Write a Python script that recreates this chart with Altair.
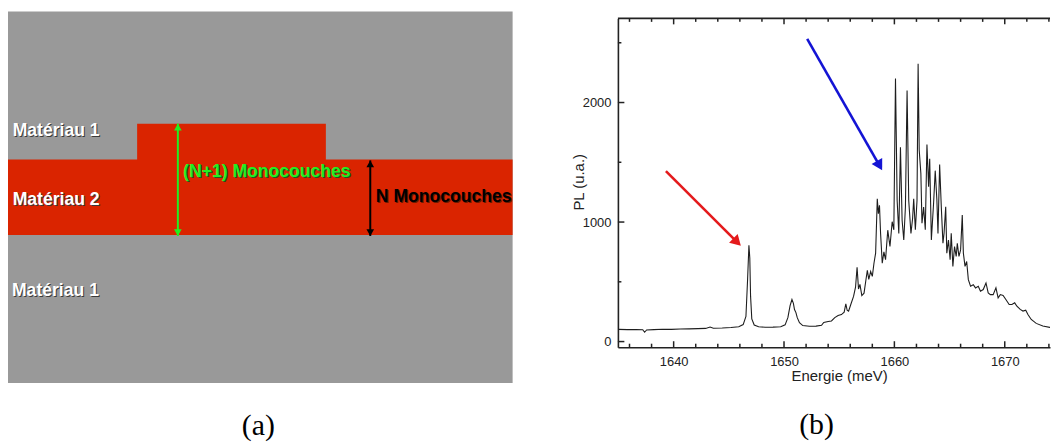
import math
import altair as alt
import pandas as pd

# ---------------- (b) PL spectrum ----------------
energy = [1635.0, 1635.8, 1636.6, 1637.2, 1637.37, 1637.55, 1638.2, 1639.0, 1639.8, 1640.6,
          1641.4, 1642.2, 1642.9, 1643.3, 1643.6, 1644.4, 1645.2, 1645.9, 1646.3, 1646.55,
          1646.7, 1646.82, 1646.9, 1646.97, 1647.08, 1647.3, 1647.7, 1648.3, 1649.0, 1649.7,
          1650.1, 1650.35, 1650.55, 1650.72, 1650.85, 1650.95, 1651.08, 1651.2, 1651.4, 1651.7,
          1652.3, 1652.9, 1653.4, 1653.6, 1654.0, 1654.3, 1654.6, 1654.9, 1655.2, 1655.45,
          1655.6, 1655.72, 1655.85, 1656.05, 1656.3, 1656.48, 1656.62, 1656.75, 1656.88, 1657.05,
          1657.25, 1657.42, 1657.55, 1657.68, 1657.85, 1658.0, 1658.15, 1658.3, 1658.45, 1658.55,
          1658.65, 1658.75, 1658.9, 1659.05, 1659.2, 1659.4, 1659.6, 1659.8, 1659.95, 1660.1,
          1660.25, 1660.4, 1660.55, 1660.7, 1660.85, 1661.0, 1661.15, 1661.3, 1661.5, 1661.65,
          1661.75, 1661.9, 1662.05, 1662.15, 1662.25, 1662.4, 1662.5, 1662.65, 1662.8, 1662.95,
          1663.1, 1663.2, 1663.35, 1663.55, 1663.7, 1663.85, 1663.95, 1664.1, 1664.25, 1664.4,
          1664.5, 1664.65, 1664.75, 1664.9, 1665.05, 1665.15, 1665.3, 1665.45, 1665.6, 1665.7,
          1665.85, 1666.0, 1666.15, 1666.25, 1666.4, 1666.55, 1666.7, 1666.9, 1667.15, 1667.35,
          1667.6, 1667.8, 1668.05, 1668.3, 1668.5, 1668.7, 1668.95, 1669.2, 1669.4, 1669.6,
          1669.85, 1670.1, 1670.4, 1670.65, 1670.9, 1671.1, 1671.4, 1671.65, 1671.9, 1672.1,
          1672.4, 1672.85, 1673.45, 1674.25]
pl = [102, 100, 101, 99, 78, 97, 100, 103, 102, 105,
      106, 108, 110, 121, 112, 114, 118, 124, 142, 210,
      520, 805, 700, 380, 190, 138, 124, 120, 121, 124,
      140, 200, 300, 352, 320, 268, 242, 200, 158, 134,
      128, 129, 136, 160, 168, 172, 200, 218, 226, 246,
      315, 262, 255, 310, 378, 455, 622, 440, 478, 385,
      405, 515, 595, 520, 586, 545, 655, 740, 1195, 1070,
      1140, 905, 655, 750, 685, 932, 795, 1003, 935, 2200,
      1180, 905, 1625, 1015, 850, 1125, 2100, 1180, 905, 1030,
      1195, 935, 1180, 2325, 1600, 1405, 990, 1125, 935, 1648,
      1295, 1530, 850, 1155, 1430, 1185, 905, 1482, 1127, 823,
      906, 1127, 740, 850, 684, 906, 629, 795, 712, 823,
      712, 767, 1058, 740, 629, 670, 518, 463, 476, 449,
      463, 421, 435, 490, 407, 393, 393, 449, 366, 393,
      385, 352, 310, 310, 324, 296, 269, 255, 263, 227,
      185, 152, 130, 116]

x_major = [1640, 1650, 1660, 1670]
x_minor = [1636, 1638, 1642, 1644, 1646, 1648, 1652, 1654, 1656, 1658,
           1662, 1664, 1666, 1668, 1672, 1674]
y_major = [0, 1000, 2000]
y_minor = [500, 1500, 2500]

# annotation arrows on the spectrum (start -> tip), data units
arrow_x0 = [1639.3, 1652.1]
arrow_y0 = [1426, 2532]
arrow_x1 = [1646.1, 1658.9]
arrow_y1 = [800, 1432]
arrow_colors = ["#e41a1c", "#1414d4"]

# ---------------- (a) schematic, units ----------------
layer_names = ["Matériau 1", "Matériau 2", "Matériau 2 (marche)"]
layer_x0 = [0, 0, 130]
layer_x1 = [508, 508, 320]
layer_y0 = [0, 149, 224]
layer_y1 = [374, 225, 261]
layer_colors = ["#999999", "#da2400", "#da2400"]

label_text = ["Matériau 1", "Matériau 2", "Matériau 1", "(N+1) Monocouches", "N Monocouches"]
label_x = [4.7, 4.7, 4.0, 176.3, 370.3]
label_y = [254, 184, 93, 212, 186.7]
label_color = ["#ffffff", "#ffffff", "#ffffff", "#22ee22", "#000000"]
label_shadow = ["#3a3a3a", "#3a3a3a", "#3a3a3a", "#1d5a1d", "#6a1a00"]

dim_x = [171, 364.7]
dim_y0 = [148, 148]
dim_y1 = [261, 224]
dim_color = ["#22ee22", "#000000"]

# ---------------- sizes ----------------
W_L, H_L = 508, 367
W_R, H_R = 435, 331
X_DOM = [1634.95, 1674.1]
Y_DOM = [-47, 2704]
AX = "#222222"
SANS = "Liberation Sans"
SERIF = "Liberation Serif"

# ======================= left panel =======================
lx = alt.Scale(domain=[0, W_L], nice=False, zero=False)
ly = alt.Scale(domain=[0, H_L], nice=False, zero=False)

rect_df = pd.DataFrame({"nom": layer_names, "x0": layer_x0, "x1": layer_x1,
                        "y0": layer_y0, "y1": layer_y1, "c": layer_colors})
rects = alt.Chart(rect_df).mark_rect().encode(
    x=alt.X("x0:Q", scale=lx, axis=None), x2="x1:Q",
    y=alt.Y("y0:Q", scale=ly, axis=None), y2="y1:Q",
    color=alt.Color("c:N", scale=None),
)

dim_df = pd.DataFrame({"x": dim_x, "y0": dim_y0, "y1": dim_y1, "c": dim_color})
dim_shaft = alt.Chart(dim_df).mark_rule(strokeWidth=2).encode(
    x=alt.X("x:Q", scale=lx, axis=None),
    y=alt.Y("y0:Q", scale=ly, axis=None), y2="y1:Q",
    color=alt.Color("c:N", scale=None),
)
dim_top = alt.Chart(dim_df).mark_point(shape="triangle-up", filled=True, size=60,
                                       opacity=1, yOffset=3.4).encode(
    x=alt.X("x:Q", scale=lx, axis=None), y=alt.Y("y1:Q", scale=ly, axis=None),
    color=alt.Color("c:N", scale=None),
)
dim_bot = alt.Chart(dim_df).mark_point(shape="triangle-down", filled=True, size=60,
                                       opacity=1, yOffset=-3.4).encode(
    x=alt.X("x:Q", scale=lx, axis=None), y=alt.Y("y0:Q", scale=ly, axis=None),
    color=alt.Color("c:N", scale=None),
)

lab_df = pd.DataFrame({"t": label_text, "x": label_x, "y": label_y,
                       "c": label_color, "s": label_shadow})
lab_shadow = alt.Chart(lab_df).mark_text(align="left", baseline="middle", font=SANS,
                                         fontWeight="bold", fontSize=17.7, dx=1, dy=1).encode(
    x=alt.X("x:Q", scale=lx, axis=None), y=alt.Y("y:Q", scale=ly, axis=None),
    text="t:N", color=alt.Color("s:N", scale=None),
)
lab_main = alt.Chart(lab_df).mark_text(align="left", baseline="middle", font=SANS,
                                       fontWeight="bold", fontSize=17.7).encode(
    x=alt.X("x:Q", scale=lx, axis=None), y=alt.Y("y:Q", scale=ly, axis=None),
    text="t:N", color=alt.Color("c:N", scale=None),
)

left = alt.layer(rects, dim_shaft, dim_top, dim_bot, lab_shadow, lab_main).properties(
    width=W_L, height=H_L,
    title=alt.TitleParams("(a)", orient="bottom", anchor="middle", frame="group",
                          offset=43, baseline="middle", font=SERIF, fontSize=30,
                          fontWeight="normal", color="black", dx=-2),
)

# ======================= right panel =======================
xs = alt.Scale(domain=X_DOM, nice=False, zero=False)
ys = alt.Scale(domain=Y_DOM, nice=False, zero=False)
PX_X = W_R / (X_DOM[1] - X_DOM[0])   # px per meV
PX_Y = H_R / (Y_DOM[1] - Y_DOM[0])   # px per count

x_axis = alt.Axis(
    values=x_major, format="d", title="Energie (meV)", grid=False, ticks=False,
    tickSize=0, domain=True, domainColor=AX, domainWidth=1.6,
    labelFont=SANS, labelFontSize=13, labelColor=AX, labelPadding=8,
    titleFont=SANS, titleFontSize=15, titleFontWeight="normal", titleColor=AX,
    titleX=222.7, titleY=28.5, titleAlign="center", titleBaseline="middle")
y_axis = alt.Axis(
    values=y_major, format="d", title="PL (u.a.)", grid=False, ticks=False,
    tickSize=0, domain=True, domainColor=AX, domainWidth=1.6,
    labelFont=SANS, labelFontSize=13, labelColor=AX, labelPadding=7,
    titleFont=SANS, titleFontSize=15, titleFontWeight="normal", titleColor=AX,
    titleX=-40, titleY=164.5, titleAngle=270, titleAlign="center",
    titleBaseline="middle")

# ---- inward frame ticks, built in data units from tick values and a px length ----
xt_rows = []
for v in x_major + x_minor:
    ln = 6.0 if v in x_major else 3.5
    xt_rows.append({"tv": v, "ta": Y_DOM[0], "tb": Y_DOM[0] + ln / PX_Y})   # bottom
    xt_rows.append({"tv": v, "ta": Y_DOM[1], "tb": Y_DOM[1] - ln / PX_Y})   # top
xt_df = pd.DataFrame(xt_rows)

yt_rows = []
for v in y_major + y_minor:
    ln = 6.5 if v in y_major else 3.5
    yt_rows.append({"uv": v, "ua": X_DOM[0], "ub": X_DOM[0] + ln / PX_X})
yt_df = pd.DataFrame(yt_rows)

tick_x_layer = alt.Chart(xt_df).mark_rule(color=AX, strokeWidth=1.5).encode(
    x=alt.X("tv:Q", scale=xs, axis=x_axis),
    y=alt.Y("ta:Q", scale=ys, axis=y_axis), y2="tb:Q",
)
tick_y_layer = alt.Chart(yt_df).mark_rule(color=AX, strokeWidth=1.5).encode(
    y=alt.Y("uv:Q", scale=ys, axis=y_axis),
    x=alt.X("ua:Q", scale=xs, axis=x_axis), x2="ub:Q",
)
top_frame = alt.Chart(pd.DataFrame({"fa": [X_DOM[0]], "fb": [X_DOM[1]], "fy": [Y_DOM[1]]})
                      ).mark_rule(color=AX, strokeWidth=1.6).encode(
    x=alt.X("fa:Q", scale=xs, axis=x_axis), x2="fb:Q",
    y=alt.Y("fy:Q", scale=ys, axis=y_axis),
)

spec_df = pd.DataFrame({"E": energy, "PL": pl})
line = alt.Chart(spec_df).mark_line(color="#1e1e1e", strokeWidth=1.1, clip=True).encode(
    x=alt.X("E:Q", scale=xs, axis=x_axis),
    y=alt.Y("PL:Q", scale=ys, axis=y_axis),
)

# arrows
arr_rows = []
for x0, y0, x1, y1, c in zip(arrow_x0, arrow_y0, arrow_x1, arrow_y1, arrow_colors):
    dxp = (x1 - x0) * PX_X
    dyp = -(y1 - y0) * PX_Y  # screen, downward positive
    length = math.hypot(dxp, dyp)
    ang = math.degrees(math.atan2(dxp, -dyp)) % 360
    back = 5.5 / length
    arr_rows.append({"x0": x0, "y0": y0, "x1": x1, "y1": y1, "c": c, "a": ang,
                     "hx": x1 - (x1 - x0) * back, "hy": y1 - (y1 - y0) * back})
arr_df = pd.DataFrame(arr_rows)
arr_shaft = alt.Chart(arr_df).mark_rule(strokeWidth=2.6).encode(
    x=alt.X("x0:Q", scale=xs, axis=x_axis), x2="hx:Q",
    y=alt.Y("y0:Q", scale=ys, axis=y_axis), y2="hy:Q",
    color=alt.Color("c:N", scale=None),
)
arr_head = alt.Chart(arr_df).mark_point(shape="triangle-up", filled=True, size=150,
                                        opacity=1).encode(
    x=alt.X("hx:Q", scale=xs, axis=x_axis), y=alt.Y("hy:Q", scale=ys, axis=y_axis),
    angle=alt.Angle("a:Q", scale=None), color=alt.Color("c:N", scale=None),
)

right = alt.layer(
    line, tick_x_layer, tick_y_layer, top_frame, arr_shaft, arr_head,
).properties(
    width=W_R, height=H_R,
    title=alt.TitleParams("(b)", orient="bottom", anchor="middle", frame="group",
                          offset=42, baseline="middle", font=SERIF, fontSize=30,
                          fontWeight="normal", color="black", dx=-17.5),
)

chart = alt.hconcat(left, right, spacing=106, bounds="flush").properties(
    padding={"left": 0, "top": 2, "right": 0, "bottom": 0}
).configure_view(stroke=None)

chart.save("out.html", embed_options={"renderer": "svg", "actions": False})
